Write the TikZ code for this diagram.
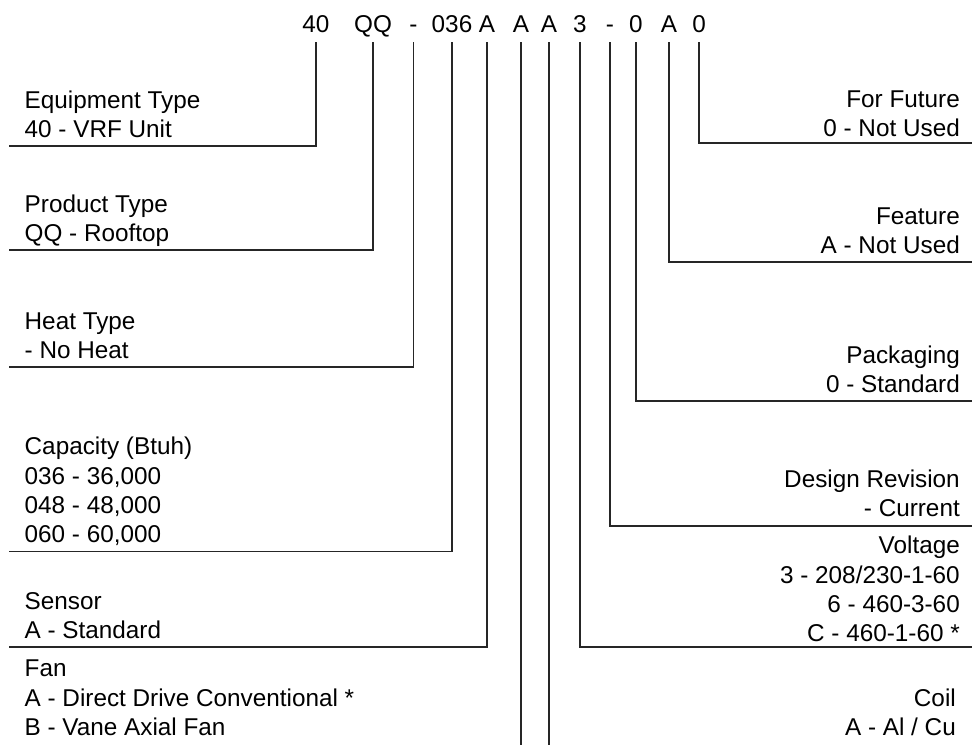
\documentclass[tikz,border=0pt]{standalone}
\usepackage{fontspec}
\setmainfont{Liberation Sans}
\usetikzlibrary{positioning}
\tikzset{
    codenode/.style = {anchor=base, inner xsep=0pt, inner ysep=9.5pt, text depth=0pt, font=\fontsize{24.3}{29.3}\selectfont},
    lblleft/.style = {anchor=south west, align=left, inner xsep=15.5pt, inner ysep=8.5pt, text depth=0pt, font=\fontsize{24.3}{29.3}\selectfont},
    lblright/.style = {anchor=south east, align=right, inner xsep=12pt, inner ysep=8pt, text depth=0pt, font=\fontsize{24.3}{29.3}\selectfont},
    edgen/.style = {-, line width=1.6pt, black!85}
}
\begin{document}
\begin{tikzpicture}[x=1pt,y=-1pt]
\useasboundingbox (0,0) rectangle (972,745);
\coordinate (bottom) at (0,745);

% model number, one node per position
\node[codenode] at (316, 32.3) (c40) {40};
\node[codenode] at (373, 32.3) (cqq) {QQ};
\node[codenode] at (413.5, 32.3) (cheat) {-};
\node[codenode] at (452, 32.3) (ccap) {036};
\node[codenode] at (487, 32.3) (csen) {A};
\node[codenode] at (521, 32.3) (cfan) {A};
\node[codenode] at (549, 32.3) (ccoil) {A};
\node[codenode] at (580, 32.3) (cvolt) {3};
\node[codenode] at (610, 32.3) (crev) {-};
\node[codenode] at (636, 32.3) (cpack) {0};
\node[codenode] at (669, 32.3) (cfeat) {A};
\node[codenode] at (699, 32.3) (cfut) {0};

% left side
\node[lblleft] at (9, 146) (eqtype) {Equipment Type\\40 - VRF Unit};
\node[lblleft] at (9, 250) (prodtype) {Product Type\\QQ - Rooftop};
\node[lblleft] at (9, 367) (heattype) {Heat Type\\- No Heat};
\node[lblleft] at (9, 551.5) (capacity) {Capacity (Btuh)\\036 - 36,000\\048 - 48,000\\060 - 60,000};
\node[lblleft] at (9, 647) (sensor) {Sensor\\A - Standard};
\node[lblleft] at (9, 744) (fan) {Fan\\A - Direct Drive Conventional *\\B - Vane Axial Fan};

% right side
\node[lblright, inner ysep=6.5pt] at (972, 143) (future) {For Future\\0 - Not Used};
\node[lblright] at (972, 262) (feature) {Feature\\A - Not Used};
\node[lblright] at (972, 401) (packaging) {Packaging\\0 - Standard};
\node[lblright, inner ysep=9pt] at (972, 526) (revision) {Design Revision\\- Current};
\node[lblright, inner ysep=5pt] at (972, 647) (voltage) {Voltage\\3 - 208/230-1-60\\6 - 460-3-60\\C - 460-1-60 *};
\node[lblright, inner xsep=16pt] at (972, 744) (coil) {Coil\\A - Al / Cu};

\draw[edgen] (c40.south) |- (eqtype.south west);
\draw[edgen] (cqq.south) |- (prodtype.south west);
\draw[edgen] (cheat.south) |- (heattype.south west);
\draw[edgen] (ccap.south) |- (capacity.south west);
\draw[edgen] (csen.south) |- (sensor.south west);
\draw[edgen] (cfan.south) -- (cfan.south |- bottom);
\draw[edgen] (ccoil.south) -- (ccoil.south |- bottom);
\draw[edgen] (cvolt.south) |- (voltage.south east);
\draw[edgen] (crev.south) |- (revision.south east);
\draw[edgen] (cpack.south) |- (packaging.south east);
\draw[edgen] (cfeat.south) |- (feature.south east);
\draw[edgen] (cfut.south) |- (future.south east);

\end{tikzpicture}
\end{document}
